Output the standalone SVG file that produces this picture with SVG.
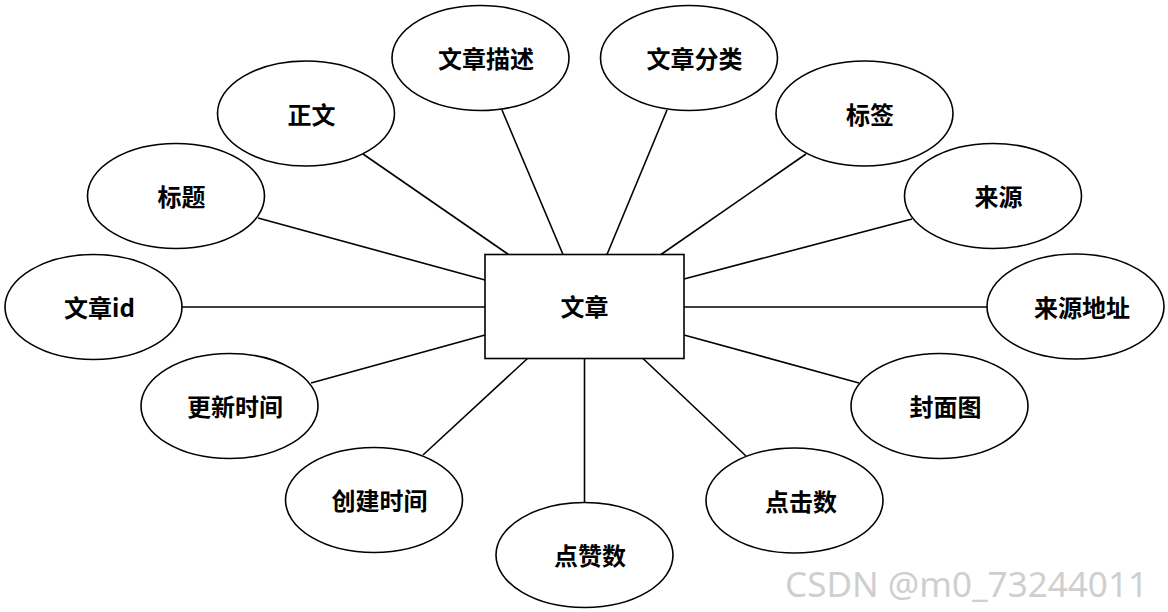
<svg xmlns="http://www.w3.org/2000/svg" width="1168" height="612" viewBox="0 0 1168 612">
<style>
.e{fill:#fff;stroke:#000;stroke-width:1.6}
.r{fill:#fff;stroke:#000;stroke-width:1.6}
.c line{stroke:#000;stroke-width:1.6}
.t{font-family:"Noto Sans CJK SC","Noto Sans",sans-serif;font-size:24px;font-weight:700;fill:#000;text-anchor:middle}
.w{font-family:"Noto Sans","Open Sans",sans-serif;font-size:35px;fill:#cfcfcf}
</style>
<rect width="1168" height="612" fill="#fff"/>
<g id="connectors" class="c">
<line x1="502" y1="110" x2="563" y2="254.5"/>
<line x1="667" y1="110" x2="607" y2="254.5"/>
<line x1="363" y1="154" x2="508.5" y2="254.5"/>
<line x1="806" y1="154" x2="661" y2="254.5"/>
<line x1="258" y1="218" x2="485" y2="280"/>
<line x1="912" y1="219" x2="684" y2="279"/>
<line x1="182" y1="307" x2="485" y2="307"/>
<line x1="684" y1="307" x2="987" y2="307"/>
<line x1="311" y1="383" x2="485" y2="335"/>
<line x1="859" y1="383" x2="684" y2="335"/>
<line x1="423" y1="455" x2="527.5" y2="358.5"/>
<line x1="746" y1="456" x2="643" y2="358.5"/>
<line x1="584.5" y1="358.5" x2="584.5" y2="502.5"/>
</g>
<g id="entity">
<rect class="r" x="485" y="254.5" width="199" height="104"/>
<text class="t" x="584.5" y="316">文章</text>
</g>
<g id="attr-desc"><ellipse class="e" cx="480.5" cy="58" rx="88.5" ry="52.5"/><text class="t" x="486" y="68">文章描述</text></g>
<g id="attr-category"><ellipse class="e" cx="689" cy="58" rx="88.5" ry="52.5"/><text class="t" x="694.5" y="68">文章分类</text></g>
<g id="attr-body"><ellipse class="e" cx="306" cy="113.5" rx="88.5" ry="52.5"/><text class="t" x="311.5" y="123.5">正文</text></g>
<g id="attr-tag"><ellipse class="e" cx="864.5" cy="113.5" rx="88.5" ry="52.5"/><text class="t" x="870" y="123.5">标签</text></g>
<g id="attr-title"><ellipse class="e" cx="176" cy="196" rx="88.5" ry="52.5"/><text class="t" x="181.5" y="206">标题</text></g>
<g id="attr-source"><ellipse class="e" cx="993" cy="196" rx="88.5" ry="52.5"/><text class="t" x="998.5" y="206">来源</text></g>
<g id="attr-id"><ellipse class="e" cx="93.5" cy="307" rx="88.5" ry="52.5"/><text class="t" x="99.5" y="317">文章id</text></g>
<g id="attr-source-url"><ellipse class="e" cx="1075.5" cy="306.5" rx="88.5" ry="52.5"/><text class="t" x="1082" y="316.5">来源地址</text></g>
<g id="attr-updated"><ellipse class="e" cx="229.5" cy="406" rx="88.5" ry="52.5"/><text class="t" x="235" y="416">更新时间</text></g>
<g id="attr-cover"><ellipse class="e" cx="939.5" cy="406" rx="88.5" ry="52.5"/><text class="t" x="945.5" y="416">封面图</text></g>
<g id="attr-created"><ellipse class="e" cx="374" cy="500" rx="88.5" ry="52.5"/><text class="t" x="379.5" y="510">创建时间</text></g>
<g id="attr-clicks"><ellipse class="e" cx="794.5" cy="500.5" rx="88.5" ry="52.5"/><text class="t" x="801" y="510.5">点击数</text></g>
<g id="attr-likes"><ellipse class="e" cx="584.5" cy="555" rx="88.5" ry="52.5"/><text class="t" x="590" y="565">点赞数</text></g>
<text class="w" x="785" y="597" textLength="363" lengthAdjust="spacingAndGlyphs">CSDN @m0_73244011</text>
</svg>
